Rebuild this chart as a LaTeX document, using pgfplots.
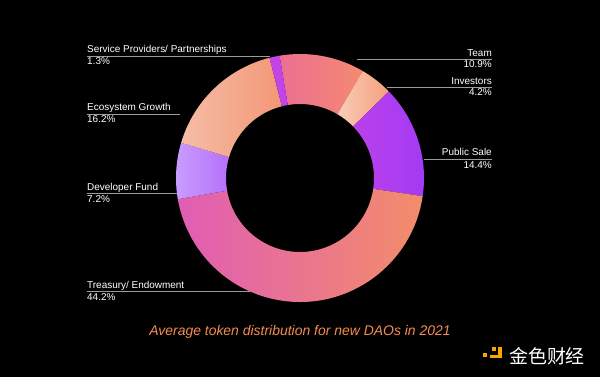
\documentclass[border=0pt]{standalone}
\usepackage{pgfplots}
\pgfplotsset{compat=1.18}
\usepackage{pgfplotstable}
\usepackage{fontspec}
\setmainfont{Liberation Sans}
\newfontfamily\cjk{Noto Sans CJK SC}

% slices in clockwise order starting at the top (Team)
\pgfplotstableread[col sep=comma]{
label,value
Team,10.9
Investors,4.2
Public Sale,14.4
Treasury/ Endowment,44.2
Developer Fund,7.2
Ecosystem Growth,16.2
Service Providers/ Partnerships,1.3
}\donutdata

\definecolor{L0}{HTML}{EC6F93}\definecolor{R0}{HTML}{F58A6F}
\definecolor{L1}{HTML}{FDEDE6}\definecolor{R1}{HTML}{F49F7B}
\definecolor{L2}{HTML}{C946E2}\definecolor{R2}{HTML}{A33AF6}
\definecolor{L3}{HTML}{E05DB4}\definecolor{R3}{HTML}{F38D6A}
\definecolor{L4}{HTML}{C99DFF}\definecolor{R4}{HTML}{9C36F4}
\definecolor{L5}{HTML}{F5BDA6}\definecolor{R5}{HTML}{F3906E}
\definecolor{L6}{HTML}{C445E6}\definecolor{R6}{HTML}{C043E8}
\definecolor{leader}{HTML}{9C9C9C}
\definecolor{titlecol}{HTML}{F68C52}
\definecolor{logoy}{HTML}{F6A800}

\begin{document}
\begin{tikzpicture}
\begin{axis}[scale only axis, width=600bp, height=377bp,
  xmin=0, xmax=600, ymin=0, ymax=377, hide axis, clip=false]
\fill[black] (axis cs:0,0) rectangle (axis cs:600,377);
\pgfplotsextra{
  \pgfplotstablegetrowsof{\donutdata}%
  \pgfmathtruncatemacro\nrows{\pgfplotsretval-1}%
  \gdef\tot{0}%
  \foreach \i in {0,...,\nrows}{%
    \pgfplotstablegetelem{\i}{value}\of\donutdata
    \pgfmathsetmacro\t{\tot+\pgfplotsretval}\xdef\tot{\t}}%
  \gdef\acc{0}%
  \foreach \i in {0,...,\nrows}{%
    \pgfplotstablegetelem{\i}{value}\of\donutdata
    \let\v\pgfplotsretval
    \pgfmathsetmacro\sa{99.5-\acc/\tot*360}%
    \pgfmathsetmacro\ea{99.5-(\acc+\v)/\tot*360}%
    \pgfmathsetmacro\na{\acc+\v}\xdef\acc{\na}%
    \shade[left color=L\i, right color=R\i]
      (axis cs:300,199) ++(\sa:124bp) arc[start angle=\sa, end angle=\ea, radius=124bp]
      -- ++(\ea:-50bp) arc[start angle=\ea, end angle=\sa, radius=74bp] -- cycle;
  }%
}
% leader lines
\draw[leader, line width=0.9bp] (axis cs:87,321) -- (axis cs:270,321);
\draw[leader, line width=0.9bp] (axis cs:87,263) -- (axis cs:180,263);
\draw[leader, line width=0.9bp] (axis cs:87,184) -- (axis cs:177,184);
\draw[leader, line width=0.9bp] (axis cs:87,85.5) -- (axis cs:250,85.5);
\draw[leader, line width=0.9bp] (axis cs:357,317.7) -- (axis cs:492,317.7);
\draw[leader, line width=0.9bp] (axis cs:387,289.5) -- (axis cs:492,289.5);
\draw[leader, line width=0.9bp] (axis cs:424,218) -- (axis cs:492,218);
% labels
\begin{scope}[every node/.style={inner sep=0pt, text=white, font=\fontsize{10}{12}\selectfont}]
\node[anchor=base west] at (axis cs:87,324) {Service Providers/ Partnerships};
\node[anchor=base west] at (axis cs:87,312) {1.3\%};
\node[anchor=base west] at (axis cs:87,266) {Ecosystem Growth};
\node[anchor=base west] at (axis cs:87,254) {16.2\%};
\node[anchor=base west] at (axis cs:87,187) {Developer Fund};
\node[anchor=base west] at (axis cs:87,175) {7.2\%};
\node[anchor=base west] at (axis cs:87,88.5) {Treasury/ Endowment};
\node[anchor=base west] at (axis cs:87,76.5) {44.2\%};
\node[anchor=base east] at (axis cs:492,320.5) {Team};
\node[anchor=base east] at (axis cs:492,309) {10.9\%};
\node[anchor=base east] at (axis cs:492,292.5) {Investors};
\node[anchor=base east] at (axis cs:492,281) {4.2\%};
\node[anchor=base east] at (axis cs:492,221) {Public Sale};
\node[anchor=base east] at (axis cs:492,208) {14.4\%};
\end{scope}
% title
\node[anchor=base, inner sep=0pt, text=titlecol, font=\itshape\fontsize{14}{16}\selectfont]
  at (axis cs:300,42) {Average token distribution for new DAOs in 2021};
% watermark logo
\fill[logoy] (axis cs:483,20) rectangle (axis cs:487,24);
\fill[logoy] (axis cs:498,19) rectangle (axis cs:502,30);
\fill[logoy] (axis cs:490,19) rectangle (axis cs:502,22);
\fill[logoy] (axis cs:492,26.5) rectangle (axis cs:495.5,30);
\node[anchor=base west, inner sep=0pt, text=white, font=\cjk\fontsize{19}{20}\selectfont]
  at (axis cs:509,14) {金色财经};
\end{axis}
\end{tikzpicture}
\end{document}
